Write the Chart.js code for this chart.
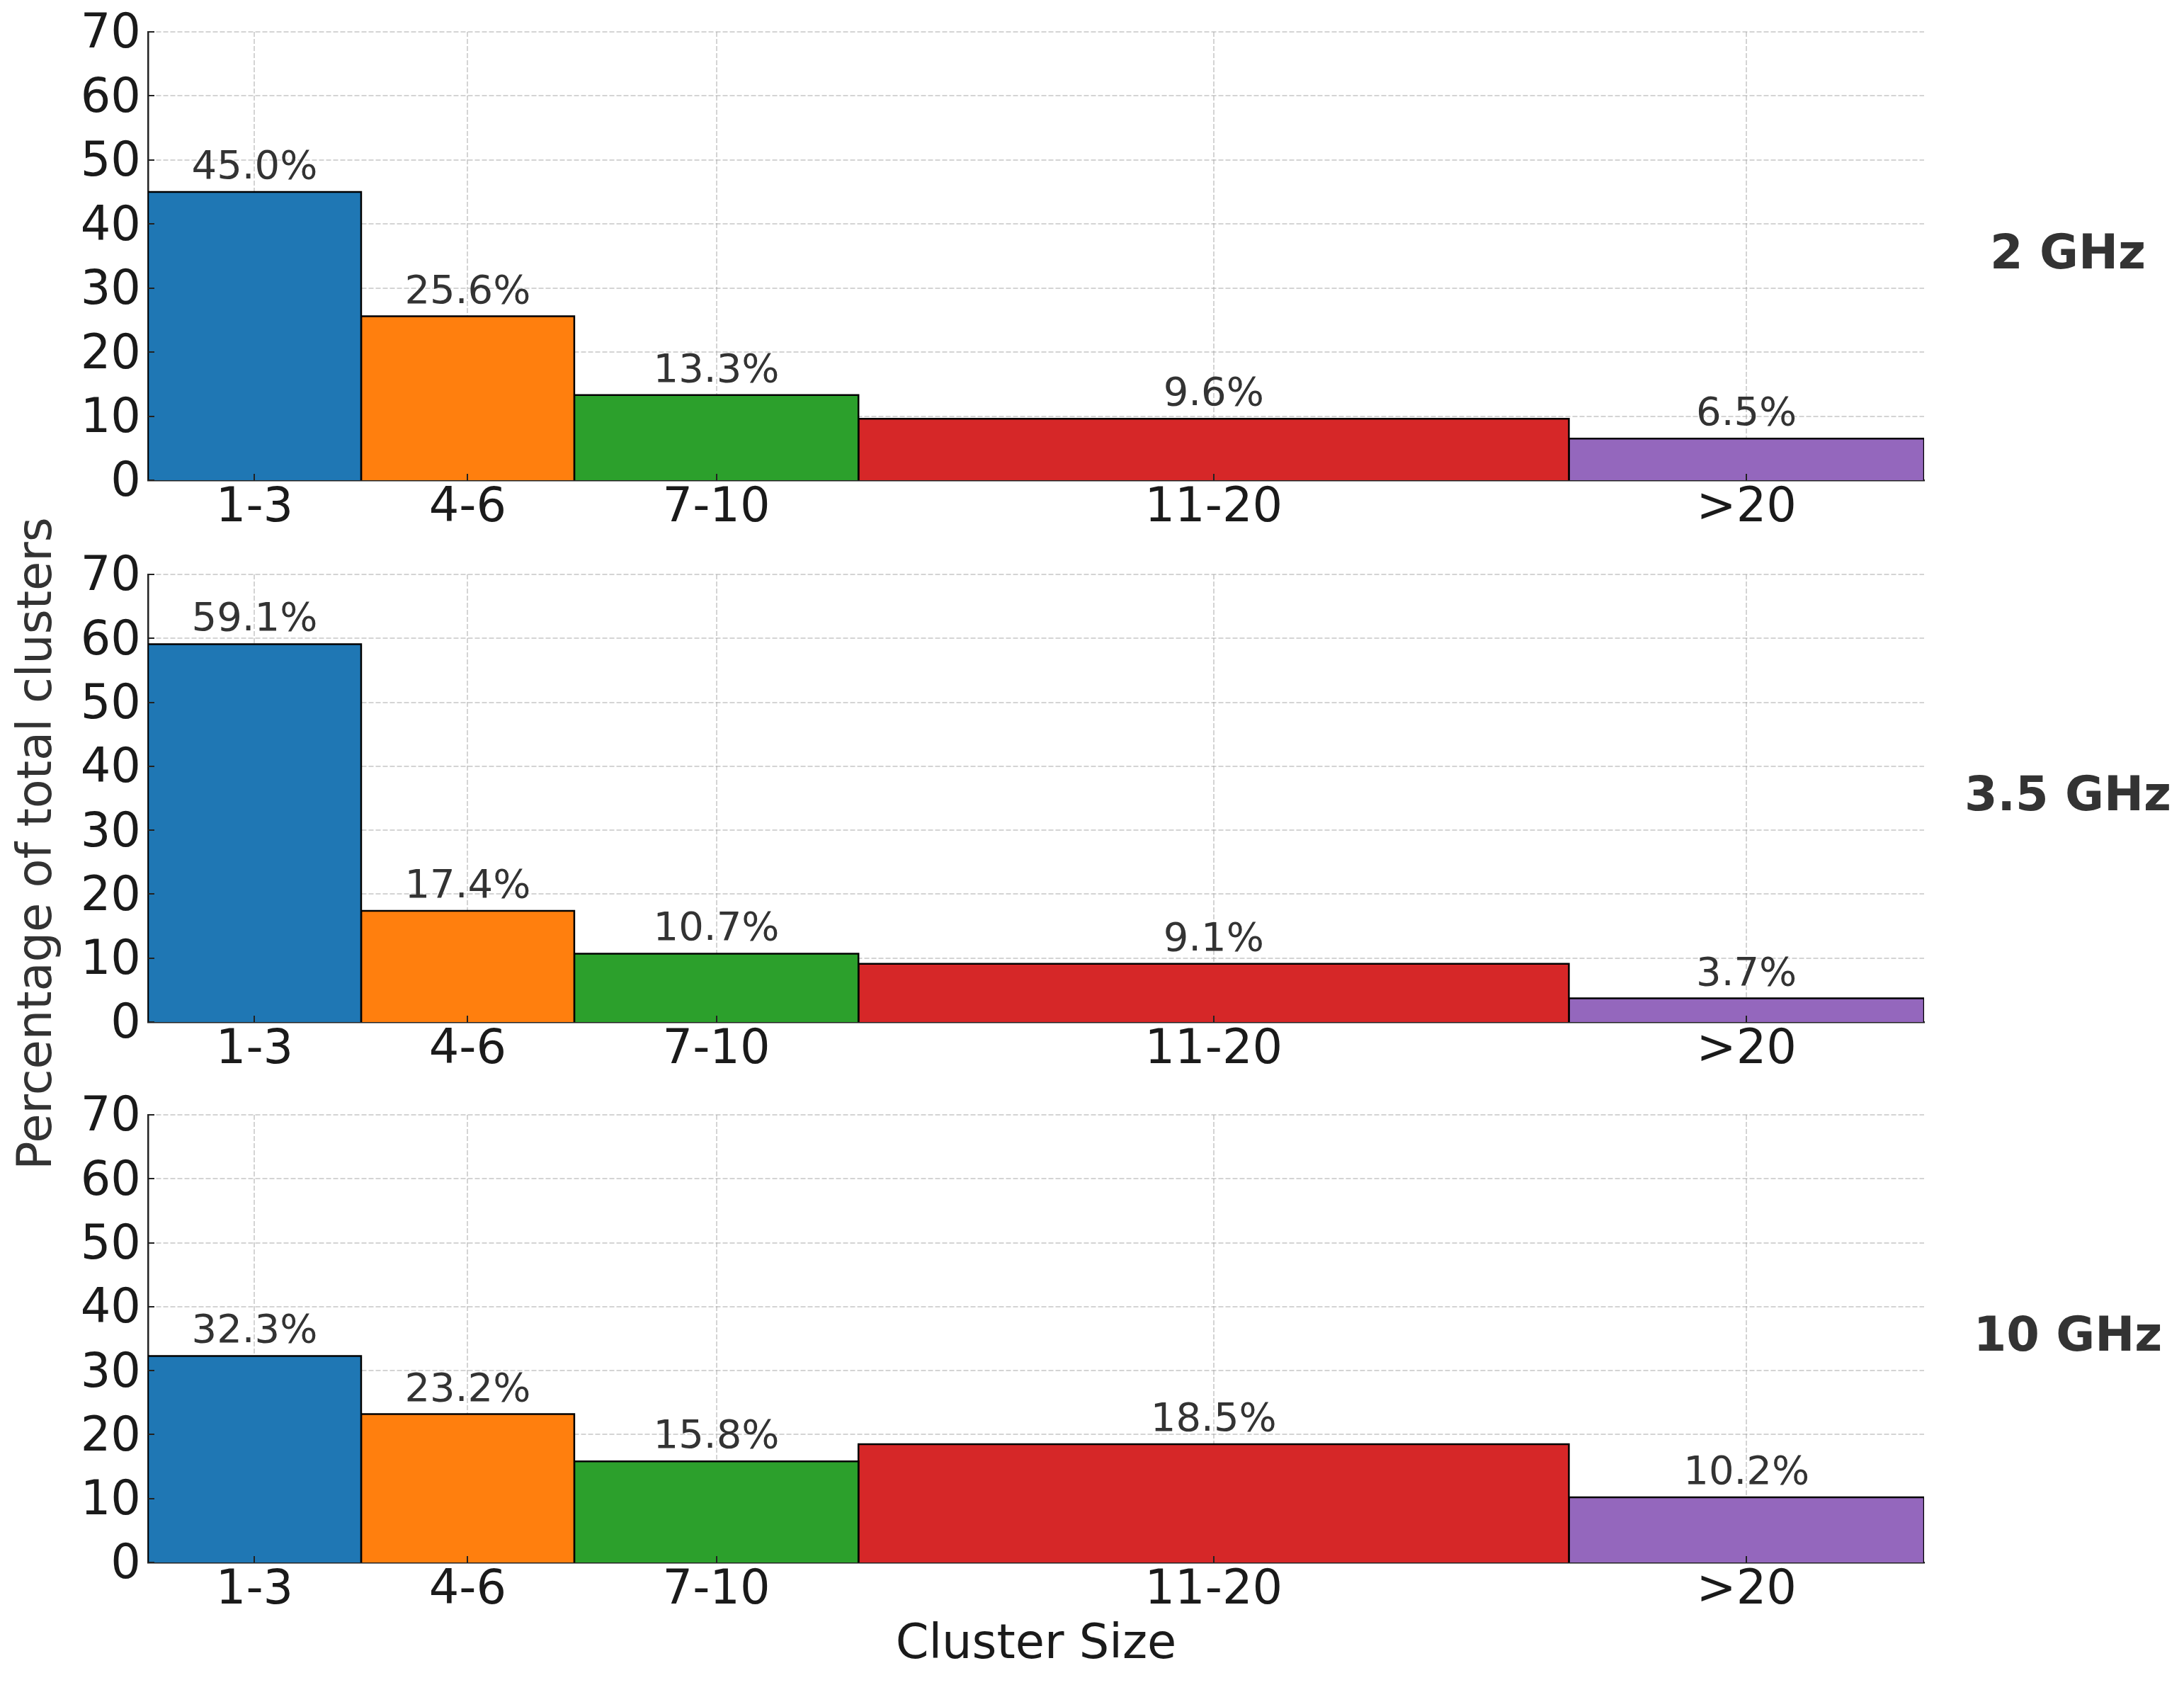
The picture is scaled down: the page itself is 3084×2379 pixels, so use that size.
<!DOCTYPE html>
<html>
<head>
<meta charset="utf-8">
<script src="https://cdn.jsdelivr.net/npm/chart.js@4.4.1/dist/chart.umd.min.js"></script>
<style>
  html, body { margin:0; padding:0; background:#ffffff; }
  body { width:3084px; height:2379px; position:relative; overflow:hidden; }
  .panel { position:absolute; left:0; }
  #ylab { position:absolute; left:49px; top:1191px; transform:translate(-50%,-50%) rotate(-90deg);
          font-family:'DejaVu Sans'; font-size:67px; line-height:1; color:#333333; white-space:nowrap; }
</style>
</head>
<body>
<div id="ylab">Percentage of total clusters</div>
<div class="panel" id="p0"><canvas id="c0"></canvas></div>
<div class="panel" id="p1"><canvas id="c1"></canvas></div>
<div class="panel" id="p2"><canvas id="c2"></canvas></div>
<script>
// ---- data ----
const categories = ['1-3', '4-6', '7-10', '11-20', '>20'];
const binEdges = [0, 3, 6, 10, 20, 25];
const frequencies = ['2 GHz', '3.5 GHz', '10 GHz'];
const values2GHz = [45.0, 25.6, 13.3, 9.6, 6.5];
const values3_5GHz = [59.1, 17.4, 10.7, 9.1, 3.7];
const values10GHz = [32.3, 23.2, 15.8, 18.5, 10.2];
const yTicks = [0, 10, 20, 30, 40, 50, 60, 70];
const xTitle = 'Cluster Size';

// ---- styles / layout ----
const colors = ['#1f77b4', '#ff7f0e', '#2ca02c', '#d62728', '#9467bd'];
const FONT = "'DejaVu Sans'";
const W = 3084;
const panels = [
  { values: values2GHz,   top: -25,  height: 813, padTop: 70, xH: 110, title: false },
  { values: values3_5GHz, top: 741,  height: 812, padTop: 70, xH: 110, title: false },
  { values: values10GHz,  top: 1504, height: 875, padTop: 70, xH: 173, title: true }
];
const tickCenters = categories.map((c, i) => (binEdges[i] + binEdges[i + 1]) / 2);

const extrasPlugin = {
  id: 'extras',
  afterDraw(chart, args, opts) {
    const ctx = chart.ctx;
    const xs = chart.scales.x, ys = chart.scales.y;
    const ca = chart.chartArea;
    ctx.save();
    // inward tick marks
    ctx.strokeStyle = '#222222';
    ctx.lineWidth = 2;
    ys.ticks.forEach(t => {
      const y = Math.round(ys.getPixelForValue(t.value));
      ctx.beginPath(); ctx.moveTo(ca.left, y); ctx.lineTo(ca.left + 9, y); ctx.stroke();
    });
    xs.ticks.forEach(t => {
      const x = Math.round(xs.getPixelForValue(t.value));
      ctx.beginPath(); ctx.moveTo(x, ca.bottom); ctx.lineTo(x, ca.bottom - 9); ctx.stroke();
    });
    // value labels
    ctx.fillStyle = '#333333';
    ctx.font = '56px ' + FONT;
    ctx.textAlign = 'center';
    ctx.textBaseline = 'alphabetic';
    opts.values.forEach((v, i) => {
      const x = xs.getPixelForValue(tickCenters[i]);
      const y = ys.getPixelForValue(v) - 19;
      ctx.fillText(v.toFixed(1) + '%', x, y);
    });
    // panel label on the right
    ctx.font = 'bold 67px ' + FONT;
    ctx.textBaseline = 'middle';
    ctx.fillText(opts.label, 2920, (ca.top + ca.bottom) / 2);
    ctx.restore();
  }
};

panels.forEach((p, pi) => {
  const wrap = document.getElementById('p' + pi);
  wrap.style.top = p.top + 'px';
  const canvas = document.getElementById('c' + pi);
  canvas.width = W; canvas.height = p.height;
  canvas.style.width = W + 'px'; canvas.style.height = p.height + 'px';

  const datasets = p.values.map((v, i) => ({
    label: categories[i],
    data: [
      { x: binEdges[i], y: 0 },
      { x: binEdges[i], y: v },
      { x: binEdges[i + 1], y: v },
      { x: binEdges[i + 1], y: 0 }
    ],
    showLine: true,
    fill: 'origin',
    backgroundColor: colors[i],
    borderColor: '#000000',
    borderWidth: 2.5,
    borderJoinStyle: 'miter',
    pointRadius: 0,
    pointHoverRadius: 0,
    tension: 0
  }));

  new Chart(canvas, {
    type: 'line',
    data: { datasets },
    plugins: [extrasPlugin],
    options: {
      responsive: false,
      animation: false,
      devicePixelRatio: 1,
      events: [],
      layout: { autoPadding: false, padding: { top: p.padTop, right: W - 2717, bottom: 0, left: 0 } },
      plugins: {
        legend: { display: false },
        tooltip: { enabled: false },
        extras: { values: p.values, label: frequencies[pi] }
      },
      scales: {
        x: {
          type: 'linear',
          min: binEdges[0],
          max: binEdges[binEdges.length - 1],
          z: 1,
          afterBuildTicks: (s) => { s.ticks = tickCenters.map(v => ({ value: v })); },
          afterFit: (s) => { s.height = p.xH; },
          ticks: {
            autoSkip: false, maxRotation: 0, minRotation: 0, padding: 0,
            color: '#1a1a1a', font: { family: FONT, size: 67 },
            callback: (value, index) => categories[index]
          },
          grid: { color: 'rgba(170,170,170,0.5)', lineWidth: 2, drawTicks: false },
          border: { display: true, color: '#222222', width: 2.5, dash: [7, 3] },
          title: {
            display: p.title, text: xTitle, color: '#1a1a1a',
            font: { family: FONT, size: 67 }, padding: { top: 0, bottom: 15 }
          }
        },
        y: {
          type: 'linear',
          min: yTicks[0],
          max: yTicks[yTicks.length - 1],
          z: 1,
          afterBuildTicks: (s) => { s.ticks = yTicks.map(v => ({ value: v })); },
          afterFit: (s) => { s.width = 209; },
          ticks: { padding: 10, labelOffset: 5, color: '#1a1a1a', font: { family: FONT, size: 67 } },
          grid: { color: 'rgba(170,170,170,0.5)', lineWidth: 2, drawTicks: false },
          border: { display: true, color: '#222222', width: 2.5, dash: [7, 3] }
        }
      }
    }
  });
});
</script>
</body>
</html>
